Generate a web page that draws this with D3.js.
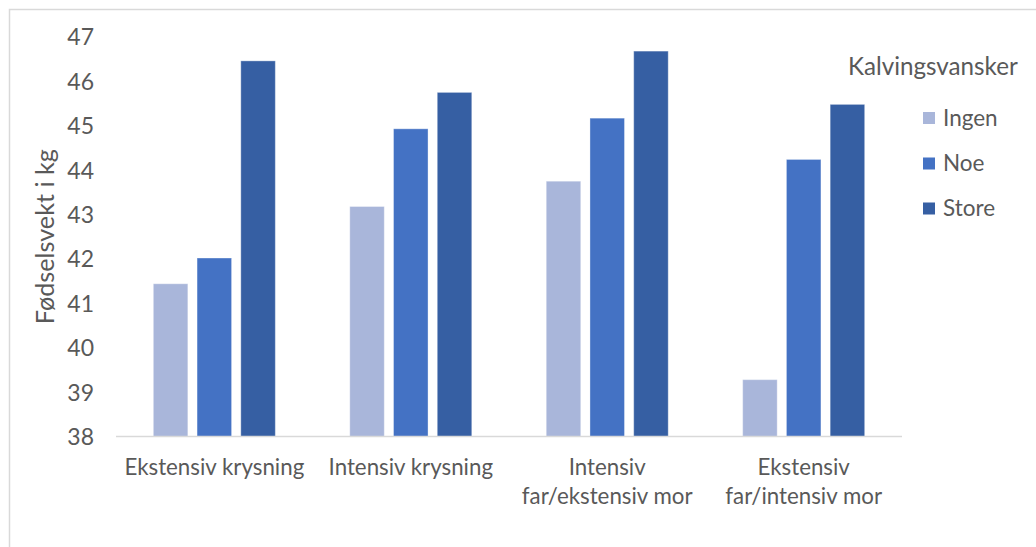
<!DOCTYPE html>
<html>
<head>
<meta charset="utf-8">
<script src="https://cdn.jsdelivr.net/npm/d3@7"></script>
<style>
  html, body { margin: 0; padding: 0; background: #fff; }
  svg { display: block; font-family: Lato, "Open Sans", sans-serif; }
</style>
</head>
<body>
<svg id="chart" width="1036" height="547"></svg>
<script>
const categories = [
  ["Ekstensiv krysning"],
  ["Intensiv krysning"],
  ["Intensiv", "far/ekstensiv mor"],
  ["Ekstensiv", "far/intensiv mor"]
];
const seriesNames = ["Ingen", "Noe", "Store"];
const ingen = [41.44, 43.18, 43.75, 39.28];
const noe   = [42.02, 44.93, 45.17, 44.24];
const store = [46.46, 45.75, 46.68, 45.48];
const yTicks = [38, 39, 40, 41, 42, 43, 44, 45, 46, 47];
const seriesValues = [ingen, noe, store];
const colors = ["#a9b6da", "#4472c4", "#365fa3"];

const svg = d3.select("#chart");
const textColor = "#595959";

// outer border
svg.append("rect")
  .attr("x", 9.5).attr("y", 9.5)
  .attr("width", 1100).attr("height", 600)
  .attr("fill", "none").attr("stroke", "#d9d9d9").attr("stroke-width", 1.5);

const catKeys = categories.map(c => c.join(" "));
const x0 = d3.scaleBand().domain(catKeys).range([116, 902])
  .paddingInner(0.379).paddingOuter(0.19);
const x1 = d3.scaleBand().domain(seriesNames).range([0, x0.bandwidth()])
  .paddingInner(0.211).paddingOuter(0);
const y = d3.scaleLinear().domain([38, 47]).range([436.5, 36.9]);

// bars
seriesNames.forEach((s, si) => {
  svg.append("g").selectAll("rect")
    .data(seriesValues[si])
    .join("rect")
    .attr("x", (d, i) => x0(catKeys[i]) + x1(s))
    .attr("y", d => y(d))
    .attr("width", x1.bandwidth())
    .attr("height", d => y(38) - y(d))
    .attr("fill", colors[si])
    .attr("stroke", "rgba(255,255,255,0.35)")
    .attr("stroke-width", 1);
});

// baseline axis line
svg.append("line")
  .attr("x1", 116).attr("x2", 902)
  .attr("y1", y(38)).attr("y2", y(38))
  .attr("stroke", "#d9d9d9").attr("stroke-width", 1.5);

// y axis
const yAxis = d3.axisLeft(y).tickValues(yTicks).tickSize(0).tickPadding(0)
  .tickFormat(d3.format("d"));
const yg = svg.append("g").attr("transform", "translate(94,0)").call(yAxis);
yg.select(".domain").remove();
yg.selectAll("text")
  .attr("fill", textColor)
  .style("font-size", "23px")
  .style("font-family", "Lato, 'Open Sans', sans-serif")
  .attr("dy", "0.35em");

// x category labels
const xg = svg.append("g");
categories.forEach((lines, i) => {
  const cx = x0(catKeys[i]) + x0.bandwidth() / 2;
  const t = xg.append("text")
    .attr("text-anchor", "middle")
    .attr("fill", textColor)
    .style("font-size", "22.3px");
  lines.forEach((ln, li) => {
    t.append("tspan").attr("x", cx).attr("y", 475 + li * 28.5).text(ln);
  });
});

// y axis title
svg.append("text")
  .attr("transform", "translate(54,236.7) rotate(-90)")
  .attr("text-anchor", "middle")
  .attr("fill", textColor)
  .style("font-size", "25.2px")
  .text("Fødselsvekt i kg");

// legend
svg.append("text")
  .attr("x", 848).attr("y", 75)
  .attr("fill", textColor)
  .style("font-size", "24.2px")
  .text("Kalvingsvansker");

const legendY = [118, 163.5, 208.5];
seriesNames.forEach((s, i) => {
  svg.append("rect")
    .attr("x", 923).attr("y", legendY[i] - 6)
    .attr("width", 12).attr("height", 12)
    .attr("fill", colors[i]);
  svg.append("text")
    .attr("x", 943).attr("y", legendY[i])
    .attr("dy", "0.35em")
    .attr("fill", textColor)
    .style("font-size", "22.5px")
    .text(s);
});
</script>
</body>
</html>
